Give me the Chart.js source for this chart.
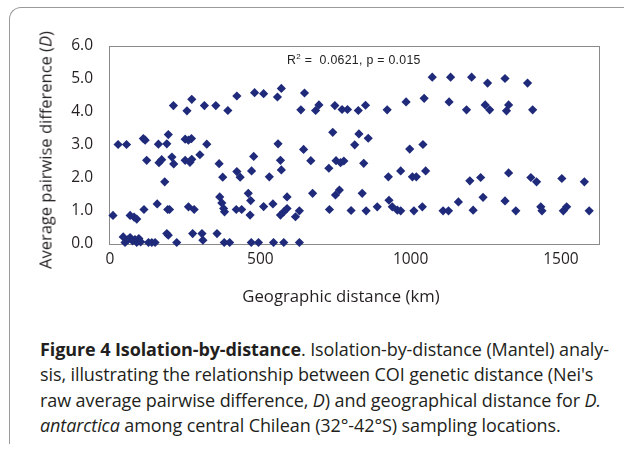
<!DOCTYPE html>
<html>
<head>
<meta charset="utf-8">
<script src="https://cdn.jsdelivr.net/npm/chart.js@4/dist/chart.umd.min.js"></script>
<style>
  html, body { margin:0; padding:0; background:#fff; }
  body { width:624px; height:452px; position:relative; overflow:hidden; font-family:"Open Sans", sans-serif; color:#231f20; }
  #frame { position:absolute; left:9px; top:7px; width:700px; height:436px; border-top:1px solid #9a9a9a; border-left:1px solid #9a9a9a; border-top-left-radius:12px; }
  #wrap { position:absolute; left:0; top:0; width:624px; height:310px; }
  .ytitle { position:absolute; left:45px; top:150px; transform:translate(-50%,-50%) rotate(-90deg); white-space:nowrap; font-size:16.5px; }
  .xtitle { position:absolute; left:341px; top:295px; transform:translate(-50%,-50%); white-space:nowrap; font-size:16.7px; }
  .annot { position:absolute; left:287px; top:53px; white-space:nowrap; font-family:"Liberation Sans", Arial, sans-serif; font-size:12.3px; color:#222; letter-spacing:0.3px; }
  .annot sup { font-size:8px; vertical-align:5px; line-height:0; }
  #caption { position:absolute; left:40px; top:337px; font-size:18px; line-height:25.3px; white-space:nowrap; letter-spacing:-0.1px; }
</style>
</head>
<body>
<div id="frame"></div>
<div id="wrap"><canvas id="c" width="624" height="310"></canvas></div>
<div class="ytitle">Average pairwise difference (<i>D</i>)</div>
<div class="xtitle">Geographic distance (km)</div>
<div class="annot">R<sup>2</sup> =&nbsp; 0.0621, p = 0.015</div>
<div id="caption"><b>Figure 4 Isolation-by-distance</b>. Isolation-by-distance (Mantel) analy-<br>sis, illustrating the relationship between COI genetic distance (Nei's<br>raw average pairwise difference, <i>D</i>) and geographical distance for <i>D.</i><br><i>antarctica</i> among central Chilean (32°-42°S) sampling locations.</div>
<script>
// Geographic distance (km) of each pairwise comparison
const distKm = [
  44, 50, 60, 67, 75, 83, 89, 96, 102, 128, 139, 150, 189, 194, 222, 275, 306, 309, 356, 380, 398, 470, 494, 544, 578, 630,
  10, 67, 80, 89, 113, 157, 192, 198, 261, 280, 365, 372, 378, 381, 420, 438, 460, 468, 466, 511, 542, 567, 578, 589, 589, 617, 630,
  674, 730, 750, 763, 802, 839, 852, 889, 928, 939, 956, 967, 1011, 1039, 1108, 1126, 1159, 1208, 1241, 1314, 1350, 1433, 1437, 1508, 1519, 1594,
  122, 163, 172, 182, 206, 212, 250, 266, 272, 299, 363, 375, 422, 433, 471, 478, 530, 567, 570, 644, 668, 728, 752, 767, 778,
  844, 926, 967, 1006, 1019, 1050, 1197, 1233, 1326, 1400, 1419, 1503, 1578,
  27, 55, 111, 117, 161, 189, 194, 250, 261, 271, 322, 559, 741, 814, 828, 859, 997, 1041,
  211, 256, 272, 314, 352, 392, 422, 481, 511, 557, 570, 635, 647, 684, 695, 748, 772, 790, 826, 850, 922, 985, 1045,
  1072, 1128, 1133, 1186, 1203, 1248, 1256, 1263, 1314, 1319, 1326, 1389, 1406
];
// Average pairwise difference (D)
const diffD = [
  0.20, 0.03, 0.12, 0.18, 0.08, 0.12, 0.03, 0.15, 0.05, 0.03, 0.03, 0.03, 0.30, 0.25, 0.03, 0.30, 0.30, 0.10, 0.30, 0.03, 0.03, 0.03, 0.03, 0.03, 0.03, 0.03,
  0.85, 0.85, 0.80, 0.74, 1.03, 1.20, 1.03, 1.03, 1.11, 1.03, 1.41, 1.23, 1.06, 0.96, 1.03, 1.03, 1.52, 1.30, 0.86, 1.12, 1.20, 0.86, 0.96, 1.06, 1.41, 0.81, 0.99,
  1.52, 1.03, 1.47, 1.62, 1.00, 1.52, 0.99, 1.11, 1.31, 1.11, 1.01, 0.99, 0.99, 1.11, 0.99, 0.99, 1.26, 1.01, 1.40, 1.29, 0.99, 1.11, 0.99, 0.99, 1.11, 0.99,
  2.52, 2.45, 2.54, 1.87, 2.62, 2.41, 2.52, 2.46, 2.55, 2.69, 2.42, 2.01, 2.18, 2.01, 2.20, 2.64, 2.02, 2.52, 2.23, 2.85, 2.51, 2.28, 2.51, 2.45, 2.50,
  2.43, 2.02, 2.20, 2.02, 2.02, 2.20, 1.90, 2.00, 2.14, 2.00, 1.87, 1.97, 1.87,
  3.00, 3.00, 3.18, 3.13, 3.01, 3.02, 3.30, 3.16, 3.13, 3.18, 3.01, 3.02, 3.37, 2.99, 3.32, 3.19, 2.86, 3.00,
  4.18, 4.02, 4.37, 4.18, 4.18, 4.03, 4.47, 4.57, 4.54, 4.44, 4.70, 4.05, 4.56, 4.03, 4.20, 4.18, 4.06, 4.06, 4.03, 4.19, 4.05, 4.29, 4.40,
  5.04, 4.29, 5.04, 4.05, 5.04, 4.20, 4.86, 4.05, 5.00, 4.02, 4.20, 4.86, 4.05
];
const xTickValues = [0, 500, 1000, 1500];
const xTickLabels = ['0', '500', '1000', '1500'];
const yTickValues = [0, 1, 2, 3, 4, 5, 6];
const yTickLabels = ['0.0', '1.0', '2.0', '3.0', '4.0', '5.0', '6.0'];

const points = distKm.map((x, i) => ({ x: x, y: diffD[i] }));

const boxPlugin = {
  id: 'plotBox',
  beforeDatasetsDraw(chart) {
    const a = chart.chartArea, ctx = chart.ctx;
    ctx.save();
    ctx.strokeStyle = '#8a8a8a';
    ctx.lineWidth = 1;
    ctx.strokeRect(Math.round(a.left) - 0.5, Math.round(a.top) + 0.5, Math.round(a.right - a.left), Math.round(a.bottom - a.top));
    ctx.restore();
  }
};

new Chart(document.getElementById('c'), {
  type: 'scatter',
  data: { datasets: [{
    data: points,
    pointStyle: 'rectRot',
    pointRadius: 4.6,
    pointHoverRadius: 4.6,
    backgroundColor: '#1f2a7a',
    borderColor: '#1f2a7a',
    borderWidth: 0,
    clip: false
  }]},
  plugins: [boxPlugin],
  options: {
    responsive: false,
    animation: false,
    events: [],
    layout: { padding: { left: 0, right: 24, top: 45.5, bottom: 0 } },
    plugins: { legend: { display: false }, tooltip: { enabled: false } },
    scales: {
      x: {
        type: 'linear', min: 0, max: 1630,
        grid: { display: false, drawTicks: false },
        border: { display: false },
        afterBuildTicks(s) { s.ticks = xTickValues.map(v => ({ value: v })); },
        afterFit(s) { s.height = 66.5; },
        ticks: { padding: 7, color: '#231f20', font: { family: 'Open Sans', size: 15.5 }, maxRotation: 0,
                 callback: (v) => xTickLabels[xTickValues.indexOf(v)] }
      },
      y: {
        type: 'linear', min: 0, max: 6,
        grid: { display: false, drawTicks: false },
        border: { display: false },
        afterBuildTicks(s) { s.ticks = yTickValues.map(v => ({ value: v })); },
        afterFit(s) { s.width = 110; },
        ticks: { padding: 17, color: '#231f20', font: { family: 'Open Sans', size: 15.5 },
                 callback: (v) => yTickLabels[yTickValues.indexOf(v)] }
      }
    }
  }
});
</script>
</body>
</html>
